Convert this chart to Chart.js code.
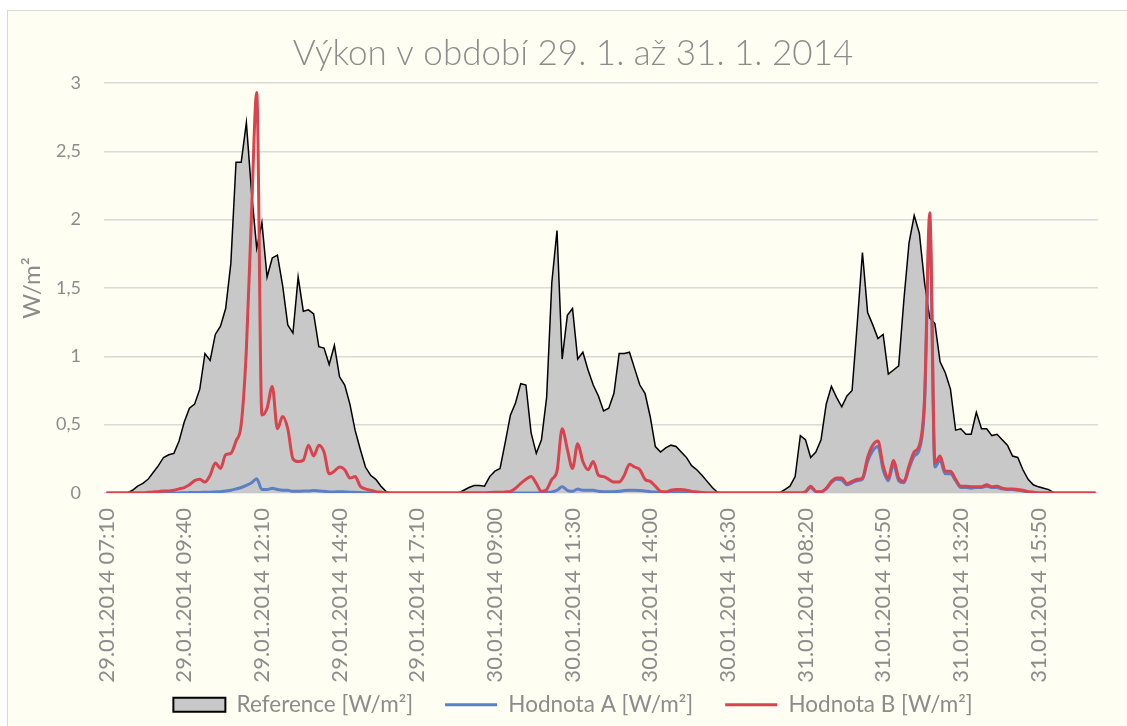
<!DOCTYPE html>
<html>
<head>
<meta charset="utf-8">
<script src="https://cdn.jsdelivr.net/npm/chart.js"></script>
<style>
    html, body { margin: 0; padding: 0; background: #ffffff; overflow: hidden; }
    #frame { position: absolute; left: 7px; top: 10px; width: 1200px; height: 800px; background: #fffef3; border: 1px solid #d9d9d9; }
    #holder { position: absolute; left: 7px; top: 11px; width: 1132px; height: 715px; }
</style>
</head>
<body>
<div id="frame"></div>
<div id="holder"><canvas id="VykonChart"></canvas></div>
<script>
var days = ['29.01.2014', '30.01.2014', '31.01.2014'];

// 10 minute readings, 07:10 - 17:40 each day
var reference29 = [0, 0, 0, 0, 0, 0.02, 0.05, 0.07, 0.10, 0.15, 0.20, 0.26, 0.28, 0.29, 0.38, 0.52, 0.62, 0.65, 0.76, 1.02, 0.97, 1.16, 1.22, 1.35, 1.68, 2.42, 2.42, 2.71, 2.2, 1.79, 1.98, 1.58, 1.72, 1.74, 1.52, 1.23, 1.17, 1.58, 1.33, 1.34, 1.31, 1.07, 1.06, 0.94, 1.08, 0.85, 0.79, 0.65, 0.46, 0.32, 0.19, 0.13, 0.10, 0.05, 0.01, 0, 0, 0, 0, 0, 0, 0, 0, 0];
var reference30 = [0, 0, 0, 0, 0, 0.02, 0.04, 0.055, 0.055, 0.05, 0.12, 0.16, 0.18, 0.37, 0.57, 0.66, 0.80, 0.79, 0.44, 0.29, 0.39, 0.70, 1.54, 1.92, 0.98, 1.30, 1.35, 0.98, 1.03, 0.90, 0.79, 0.71, 0.60, 0.62, 0.73, 1.02, 1.02, 1.03, 0.91, 0.79, 0.73, 0.56, 0.34, 0.30, 0.33, 0.35, 0.34, 0.30, 0.26, 0.20, 0.17, 0.13, 0.085, 0.04, 0.005, 0, 0, 0, 0, 0, 0, 0, 0, 0];
var reference31 = [0, 0, 0, 0.025, 0.05, 0.12, 0.42, 0.39, 0.26, 0.30, 0.39, 0.65, 0.78, 0.70, 0.63, 0.71, 0.75, 1.24, 1.76, 1.32, 1.23, 1.13, 1.16, 0.87, 0.90, 0.93, 1.41, 1.83, 2.03, 1.90, 1.54, 1.28, 1.24, 0.96, 0.88, 0.76, 0.46, 0.47, 0.43, 0.43, 0.59, 0.47, 0.47, 0.42, 0.43, 0.39, 0.35, 0.27, 0.26, 0.17, 0.10, 0.06, 0.045, 0.035, 0.025, 0, 0, 0, 0, 0, 0, 0, 0, 0];

var hodnotaA29 = [0, 0, 0, 0, 0, 0, 0, 0, 0, 0, 0, 0, 0, 0, 0, 0.002, 0.003, 0.004, 0.004, 0.005, 0.006, 0.008, 0.01, 0.015, 0.02, 0.03, 0.04, 0.055, 0.075, 0.105, 0.025, 0.025, 0.035, 0.025, 0.02, 0.02, 0.012, 0.012, 0.015, 0.015, 0.018, 0.015, 0.012, 0.008, 0.008, 0.01, 0.008, 0.006, 0.005, 0.003, 0.002, 0, 0, 0, 0, 0, 0, 0, 0, 0, 0, 0, 0, 0];
var hodnotaA30 = [0, 0, 0, 0, 0, 0, 0, 0, 0, 0, 0, 0, 0, 0, 0, 0, 0, 0, 0, 0, 0.003, 0.005, 0.008, 0.02, 0.045, 0.02, 0.012, 0.03, 0.02, 0.02, 0.02, 0.012, 0.01, 0.01, 0.01, 0.012, 0.018, 0.02, 0.02, 0.018, 0.015, 0.01, 0.007, 0.005, 0.005, 0.005, 0.005, 0.005, 0.005, 0.005, 0.005, 0.003, 0, 0, 0, 0, 0, 0, 0, 0, 0, 0, 0, 0];
var hodnotaA31 = [0, 0, 0, 0, 0, 0, 0, 0.008, 0.04, 0.01, 0.008, 0.03, 0.075, 0.10, 0.095, 0.06, 0.075, 0.09, 0.10, 0.23, 0.31, 0.34, 0.17, 0.09, 0.21, 0.09, 0.075, 0.18, 0.27, 0.32, 0.65, 1.95, 0.19, 0.24, 0.14, 0.14, 0.09, 0.04, 0.04, 0.035, 0.04, 0.04, 0.05, 0.04, 0.04, 0.03, 0.025, 0.025, 0.02, 0.015, 0.008, 0.004, 0, 0, 0, 0, 0, 0, 0, 0, 0, 0, 0, 0];

var hodnotaB29 = [0, 0, 0, 0, 0, 0, 0, 0, 0.005, 0.008, 0.01, 0.015, 0.015, 0.02, 0.03, 0.04, 0.06, 0.09, 0.10, 0.08, 0.13, 0.22, 0.18, 0.28, 0.29, 0.38, 0.5, 1.05, 2.05, 2.93, 0.57, 0.62, 0.78, 0.47, 0.56, 0.47, 0.25, 0.23, 0.24, 0.35, 0.27, 0.35, 0.30, 0.14, 0.16, 0.19, 0.17, 0.11, 0.12, 0.05, 0.03, 0.02, 0.01, 0.005, 0, 0, 0, 0, 0, 0, 0, 0, 0, 0];
var hodnotaB30 = [0, 0, 0, 0, 0, 0, 0, 0, 0, 0, 0.003, 0.005, 0.006, 0.008, 0.012, 0.035, 0.07, 0.10, 0.12, 0.07, 0.012, 0.025, 0.10, 0.16, 0.47, 0.32, 0.18, 0.36, 0.23, 0.17, 0.23, 0.13, 0.12, 0.10, 0.08, 0.08, 0.13, 0.21, 0.19, 0.17, 0.10, 0.085, 0.05, 0.012, 0.008, 0.02, 0.025, 0.025, 0.02, 0.012, 0.008, 0.004, 0, 0, 0, 0, 0, 0, 0, 0, 0, 0, 0, 0];
var hodnotaB31 = [0, 0, 0, 0, 0, 0, 0, 0.01, 0.05, 0.012, 0.01, 0.035, 0.085, 0.11, 0.11, 0.07, 0.085, 0.10, 0.11, 0.26, 0.35, 0.38, 0.20, 0.11, 0.24, 0.11, 0.085, 0.20, 0.30, 0.35, 0.7, 2.05, 0.22, 0.27, 0.16, 0.16, 0.10, 0.05, 0.05, 0.045, 0.045, 0.045, 0.06, 0.045, 0.05, 0.035, 0.03, 0.03, 0.025, 0.02, 0.01, 0.005, 0, 0, 0, 0, 0, 0, 0, 0, 0, 0, 0, 0];

var yTicks = [0, 0.5, 1, 1.5, 2, 2.5, 3];

var TextGray = '#8c8c8c';
var FontName = 'Lato';

function pad2(n) {
    return (n < 10 ? '0' : '') + n;
}

function BuildLabels() {
    var labels = [];
    for (var d = 0; d < days.length; d++) {
        for (var m = 7 * 60 + 10; m <= 17 * 60 + 40; m += 10) {
            labels.push(days[d] + ' ' + pad2(Math.floor(m / 60)) + ':' + pad2(m % 60));
        }
    }
    return labels;
}

VykonGraph();

function VykonGraph() {
    var ctx = document.getElementById('VykonChart').getContext('2d');
    var labels = BuildLabels();

    window.MyChartVykon = new Chart(ctx, {
        type: 'line',
        data: {
            labels: labels,
            datasets: [{
                label: 'Reference [W/m²]',
                data: reference29.concat(reference30, reference31),
                borderColor: '#000000',
                borderWidth: 1.5,
                backgroundColor: '#c8c8c8',
                fill: 'origin',
                tension: 0,
                pointRadius: 0,
                pointHoverRadius: 0,
                pointStyle: 'rect',
                pointBackgroundColor: '#c8c8c8',
                pointBorderColor: '#000000',
                pointBorderWidth: 2,
                order: 3
            }, {
                label: 'Hodnota A [W/m²]',
                data: hodnotaA29.concat(hodnotaA30, hodnotaA31),
                borderColor: '#5b7ec5',
                borderWidth: 3,
                fill: false,
                cubicInterpolationMode: 'monotone',
                pointRadius: 0,
                pointHoverRadius: 0,
                pointStyle: 'line',
                pointBorderColor: '#5b7ec5',
                pointBorderWidth: 3,
                order: 2
            }, {
                label: 'Hodnota B [W/m²]',
                data: hodnotaB29.concat(hodnotaB30, hodnotaB31),
                borderColor: '#d8434d',
                borderWidth: 3,
                fill: false,
                cubicInterpolationMode: 'monotone',
                pointRadius: 0,
                pointHoverRadius: 0,
                pointStyle: 'line',
                pointBorderColor: '#d8434d',
                pointBorderWidth: 3,
                order: 1
            }]
        },
        options: {
            responsive: true,
            maintainAspectRatio: false,
            animation: false,
            events: [],
            layout: {
                padding: { left: 0, right: 0, top: 0, bottom: 0 }
            },
            plugins: {
                title: {
                    display: true,
                    text: 'Výkon v období 29. 1. až 31. 1. 2014',
                    color: TextGray,
                    font: { family: FontName, size: 35, weight: '300' },
                    padding: { top: 21.5, bottom: 8.5 }
                },
                legend: {
                    position: 'bottom',
                    reverse: true,
                    labels: {
                        color: TextGray,
                        font: { family: FontName, size: 22.5 },
                        usePointStyle: true,
                        pointStyleWidth: 52,
                        boxHeight: 14,
                        padding: 32
                    }
                },
                tooltip: { enabled: false }
            },
            scales: {
                x: {
                    type: 'category',
                    offset: true,
                    grid: { display: false, drawTicks: false },
                    border: { display: false },
                    ticks: {
                        autoSkip: false,
                        minRotation: 90,
                        maxRotation: 90,
                        padding: 15,
                        color: TextGray,
                        font: { family: FontName, size: 22 },
                        callback: function (value, index) {
                            return index % 15 === 0 ? this.getLabelForValue(value) : null;
                        }
                    },
                    afterFit: function (scale) {
                        scale.height = 168.5;
                        // the long rotated labels run down past the legend top, don't clip them
                        scale._computeLabelArea = function () { return undefined; };
                    }
                },
                y: {
                    min: 0,
                    max: 3,
                    grid: { color: '#dadada', lineWidth: 1.5, drawTicks: false },
                    border: { display: false },
                    afterBuildTicks: function (scale) {
                        scale.ticks = yTicks.map(function (v) { return { value: v }; });
                    },
                    ticks: {
                        padding: 23,
                        color: TextGray,
                        font: { family: FontName, size: 18 },
                        callback: function (value) {
                            return String(value).replace('.', ',');
                        }
                    },
                    title: {
                        display: true,
                        text: 'W/m²',
                        color: TextGray,
                        font: { family: FontName, size: 24 },
                        padding: { top: 11, bottom: 0 }
                    },
                    afterFit: function (scale) {
                        scale.width = 97;
                    }
                },
                yRight: {
                    type: 'linear',
                    position: 'right',
                    grid: { display: false },
                    border: { display: false },
                    ticks: { display: false },
                    afterFit: function (scale) {
                        scale.width = 41;
                    }
                }
            }
        }
    });
}
</script>
</body>
</html>
